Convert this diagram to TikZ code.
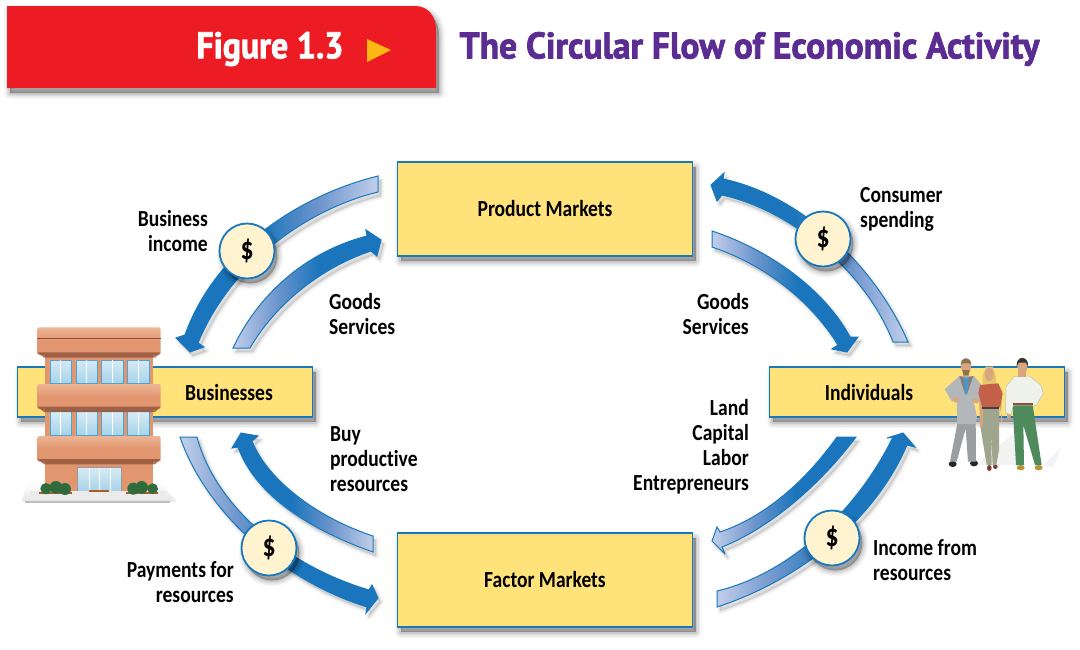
\documentclass[tikz,border=0pt]{standalone}
\usepackage{fontspec}
\setmainfont{Carlito}
\newfontfamily\heavy[FakeBold=2,FakeStretch=0.915]{PT Sans Bold}
\newfontfamily\heavyt[FakeBold=2,FakeStretch=0.96]{PT Sans Bold}
\newfontfamily\labfont[FakeStretch=0.85,Ligatures=NoCommon]{Carlito Bold}
\newfontfamily\dolfont[FakeStretch=0.8]{Carlito Bold}
\usetikzlibrary{calc}
\definecolor{boxy}{HTML}{FFE27A}
\definecolor{edge}{HTML}{1878BE}
\definecolor{dk}{HTML}{1A75BC}
\definecolor{md}{HTML}{6C94CC}
\definecolor{lt}{HTML}{BCCBE8}
\definecolor{cream}{HTML}{FFF4CF}
\definecolor{redband}{HTML}{ED1C24}
\definecolor{purp}{HTML}{5B2C91}
\definecolor{amber}{HTML}{FDB913}
\definecolor{brick}{HTML}{E2966F}
\definecolor{brickd}{HTML}{8A4F38}
\definecolor{brickl}{HTML}{EDB595}
\definecolor{glassa}{HTML}{D6EAF4}
\definecolor{glassb}{HTML}{A6D3EA}
\definecolor{frameb}{HTML}{4FA3CF}
\definecolor{bush}{HTML}{2F6B3D}
\definecolor{skin}{HTML}{D9A57E}
\definecolor{suit}{HTML}{B4B7B9}
\definecolor{suitd}{HTML}{9B9FA2}
\definecolor{tie}{HTML}{3E9AD6}
\definecolor{hairm}{HTML}{8C7350}
\definecolor{blond}{HTML}{E5C56E}
\definecolor{shirtr}{HTML}{C4604A}
\definecolor{khaki}{HTML}{A0A58E}
\definecolor{shirtw}{HTML}{EEF2EA}
\definecolor{shirtl}{HTML}{B9C2B4}
\definecolor{pantg}{HTML}{4E8A5C}
\definecolor{tan}{HTML}{B8943C}
\definecolor{shoer}{HTML}{7A3D35}
\pgfdeclarehorizontalshading{darklite}{100bp}{color(0bp)=(dk);color(25bp)=(dk);color(46bp)=(dk);color(60bp)=(md);color(74bp)=(lt);color(100bp)=(lt)}
\tikzset{x=1pt,y=-1pt,
 softshadow/.style={
   preaction={draw=black,fill=black,opacity=.03,line width=12pt,line join=round,transform canvas={xshift=3pt,yshift=-5pt}},
   preaction={draw=black,fill=black,opacity=.05,line width=9pt,line join=round,transform canvas={xshift=3pt,yshift=-5pt}},
   preaction={draw=black,fill=black,opacity=.06,line width=6pt,line join=round,transform canvas={xshift=3pt,yshift=-5pt}},
   preaction={draw=black,fill=black,opacity=.08,line width=3pt,line join=round,transform canvas={xshift=3pt,yshift=-5pt}},
   preaction={draw=none,fill=black,opacity=.1,transform canvas={xshift=3pt,yshift=-5pt}}},
 thinshadow/.style={
   preaction={draw=black,fill=black,opacity=.025,line width=7pt,line join=round,transform canvas={xshift=3pt,yshift=-4pt}},
   preaction={draw=black,fill=black,opacity=.035,line width=4pt,line join=round,transform canvas={xshift=3pt,yshift=-4pt}},
   preaction={draw=black,fill=black,opacity=.05,line width=2pt,line join=round,transform canvas={xshift=3pt,yshift=-4pt}}},
 market/.style={draw=edge,line width=1.6pt,fill=boxy,softshadow,minimum width=295pt,minimum height=94pt,font=\labtext},
 sector/.style={draw=edge,line width=1.6pt,fill=boxy,softshadow,minimum width=295pt,minimum height=50pt},
 money/.style={circle,draw=edge,line width=1.8pt,fill=cream,softshadow,minimum size=55pt,inner sep=0pt,font=\dolfont\fontsize{32}{32}\selectfont},
 lab/.style={font=\labtext,align=left,inner sep=0pt},
 labr/.style={lab,align=right},
 band/.style={draw=edge,line width=1pt,thinshadow,line join=miter,miter limit=4,shading=darklite},
 pane/.style={top color=glassa,bottom color=glassb,draw=frameb,line width=.8pt},
 slab/.style={top color=brickl,bottom color=brick,middle color=brick}}
\newcommand{\labtext}{\labfont\fontsize{23}{25}\selectfont}
\begin{document}
\begin{tikzpicture}
\useasboundingbox (0,0) rectangle (1080,649);
\fill[white] (0,0) rectangle (1080,649);
% banner
\fill[redband,softshadow] (7,6) -- (415,6) .. controls (428,6) and (436,16) .. (436,30) -- (436,88) -- (7,88) -- cycle;
\node[white,inner sep=0pt] (fig) at (270,49) {\heavy\fontsize{37}{37}\selectfont Figure 1.3};
\fill[amber] (367,39) -- (391,50) -- (367,62) -- cycle;
\node[purp,inner sep=0pt] (title) at (749.5,49) {\heavyt\fontsize{37}{37}\selectfont The Circular Flow of Economic Activity};
% boxes
\node[market] (pm) at (545,209) {Product Markets};
\node[market] (fm) at (545,580) {Factor Markets};
\node[sector] (bs) at (165,392) {};
\node[sector] (in) at (917,392) {};
\node[inner sep=0pt,font=\labtext] (bst) at (229,393) {Businesses};
\node[inner sep=0pt,font=\labtext] (int) at (869,393) {Individuals};
% arrows
\shadedraw[band,shading angle=0] (378,176) .. controls (300,195) and (215,250) .. (185,335) -- (176,338) -- (190,352) -- (204,347) -- (198,343) .. controls (230,265) and (305,210) .. (378,192) -- cycle;
\shadedraw[band,shading angle=180] (233,348) .. controls (258,295) and (305,252) .. (367,236) -- (366,230) -- (381,240) -- (377,256) -- (371,251) .. controls (320,268) and (275,305) .. (250,348) -- cycle;
\shadedraw[band,shading angle=0] (908,342) .. controls (875,265) and (800,195) .. (723,179) -- (724,173) -- (711,185) -- (717,201) -- (722,195) .. controls (790,210) and (865,270) .. (893,342) -- cycle;
\shadedraw[band,shading angle=180] (712,231) .. controls (770,250) and (825,290) .. (850,337) -- (858,337) -- (847,352) -- (832,349) -- (838,345) .. controls (810,300) and (765,265) .. (712,247) -- cycle;
\shadedraw[band,shading angle=180] (197,437) .. controls (215,505) and (285,565) .. (369,590) -- (372,585) -- (378,598) -- (366,613) -- (367,607) .. controls (280,580) and (205,510) .. (180,437) -- cycle;
\shadedraw[band,shading angle=0] (373,536) .. controls (310,515) and (265,475) .. (252,441) -- (258,436) -- (241,433) -- (232,448) -- (238,447) .. controls (255,495) and (310,530) .. (373,552) -- cycle;
\shadedraw[band,shading angle=180] (837,437) .. controls (810,475) and (770,515) .. (720,532) -- (717,527) -- (712,541) -- (725,554) -- (722,547) .. controls (770,528) and (820,485) .. (856,437) -- cycle;
\shadedraw[band,shading angle=180] (717,591) .. controls (785,575) and (855,515) .. (893,437) -- (887,438) -- (903,433) -- (915,447) -- (907,445) .. controls (875,520) and (800,580) .. (717,607) -- cycle;
% money
\node[money] (m1) at (247,251) {\$};
\node[money] (m2) at (823,239) {\$};
\node[money] (m3) at (269,548) {\$};
\node[money] (m4) at (832,538) {\$};
% labels
\node[labr,anchor=east] (l1) at (208,231) {Business\\income};
\node[lab,anchor=west] (l2) at (329,314) {Goods\\Services};
\node[labr,anchor=east] (l3) at (749,314) {Goods\\Services};
\node[lab,anchor=west] (l4) at (860,209) {Consumer\\spending};
\node[labr,anchor=east] (l5) at (749,447) {Land\\Capital\\Labor\\Entrepreneurs};
\node[lab,anchor=west] (l6) at (330,459) {Buy\\productive\\resources};
\node[labr,anchor=east] (l7) at (234,582) {Payments for\\resources};
\node[lab,anchor=west] (l8) at (873,560) {Income from\\resources};
% building
\begin{scope}[shift={(20,320)},scale=1/3]
\shade[top color=white,bottom color=black!10] (20,490) -- (420,490) -- (470,545) -- (5,545) -- cycle;
\fill[black!25] (15,542) rectangle (450,550);
\fill[brick] (75,100) rectangle (400,515);
\foreach \yy in {120,275}{
 \foreach \xx in {90,168,245,322}{
  \shade[pane] (\xx,\yy) rectangle ++(65,70);
  \draw[white,line width=.6pt] (\xx+32,\yy) -- (\xx+32,\yy+70);
 }}
\foreach \ya/\yb in {22/105,192/268,348/425}{
 \shade[slab,rounded corners=2pt] (52,\ya) rectangle (422,\yb);
 \fill[brickd,opacity=.75] (52,\yb-8) -- (422,\yb-8) -- (405,\yb+8) -- (72,\yb+8) -- cycle;
}
\draw[brickd,line width=1pt] (52,55) -- (422,55);
\shade[pane,draw=black!40] (173,443) rectangle (303,513);
\foreach \xx in {208,238,270}{\draw[white,line width=.6pt] (\xx,443) -- (\xx,513);}
\fill[black!8] (30,513) rectangle (440,528);
\fill[brickd!70!orange] (208,510) rectangle (268,515);
\fill[brickd!70!orange] (58,515) rectangle (155,523);
\fill[brickd!70!orange] (318,515) rectangle (414,523);
\foreach \cx/\cy/\rr in {78/506/17,108/502/19,135/507/18,340/506/18,365/502/19,398/506/16}{\fill[bush] (\cx,\cy) circle[radius=\rr];}
\end{scope}
% people
\begin{scope}[shift={(930,350)},scale=1/3]
\fill[black,opacity=.05] (140,345) -- (250,250) -- (285,345) -- cycle;
\fill[black,opacity=.05] (335,350) -- (395,290) -- (370,350) -- cycle;
% man 1
\fill[black!85] (68,342) ellipse[x radius=12,y radius=9];
\fill[black!85] (132,340) ellipse[x radius=12,y radius=9];
\fill[suitd] (85,205) -- (60,335) -- (80,335) -- (107,235) -- (114,335) -- (138,335) -- (137,205) -- cycle;
\fill[suit] (88,78) -- (132,78) -- (155,105) -- (150,158) -- (130,150) -- (142,205) -- (135,222) -- (82,222) -- (80,150) -- (66,155) -- (44,118) -- cycle;
\fill[skin] (66,148) -- (82,140) -- (88,152) -- (75,158) -- cycle;
\fill[skin] (128,145) -- (146,150) -- (142,160) -- (126,156) -- cycle;
\fill[black!50] (88,78) -- (104,82) -- (106,135) -- cycle;
\fill[black!50] (130,78) -- (114,82) -- (110,135) -- cycle;
\fill[tie] (103,82) -- (115,82) -- (111,132) -- (106,132) -- cycle;
\fill[skin] (97,62) -- (119,62) -- (116,82) -- (100,82) -- cycle;
\fill[skin] (108,50) ellipse[x radius=15,y radius=21];
\fill[hairm] (92,46) .. controls (90,18) and (126,18) .. (124,46) -- (119,40) -- (97,40) -- cycle;
\fill[hairm] (97,60) -- (119,60) -- (115,76) -- (101,76) -- cycle;
% woman
\fill[shoer] (178,354) ellipse[x radius=7,y radius=9];
\fill[shoer] (196,350) ellipse[x radius=7,y radius=7];
\fill[khaki] (155,175) -- (208,175) -- (207,300) -- (199,345) -- (188,345) -- (183,240) -- (185,345) -- (170,345) -- (152,235) -- cycle;
\fill[skin] (147,130) -- (160,170) -- (157,232) -- (150,232) -- cycle;
\fill[skin] (216,130) -- (208,170) -- (219,210) -- (212,218) -- cycle;
\fill[blond] (158,105) .. controls (150,35) and (205,35) .. (198,105) -- cycle;
\fill[skin] (178,72) ellipse[x radius=13,y radius=21];
\fill[blond] (166,62) .. controls (170,50) and (186,50) .. (190,62) -- (190,50) -- (166,50) -- cycle;
\fill[shirtr] (150,105) -- (205,100) -- (218,130) -- (210,172) -- (158,175) -- (145,130) -- cycle;
\fill[black!75] (157,171) rectangle (206,178);
% man 2
\fill[tan] (272,353) ellipse[x radius=12,y radius=8];
\fill[tan] (326,353) ellipse[x radius=12,y radius=8];
\fill[pantg] (248,165) -- (308,165) -- (335,345) -- (315,345) -- (280,225) -- (282,345) -- (258,345) -- cycle;
\fill[skin] (232,188) -- (243,195) -- (241,208) -- (231,205) -- cycle;
\filldraw[fill=shirtw,draw=shirtl,line width=.5pt] (252,80) -- (298,78) -- (332,105) -- (340,130) -- (318,168) -- (308,165) -- (250,165) -- (243,195) -- (226,188) -- (228,110) -- cycle;
\fill[brickd] (248,160) rectangle (308,166);
\fill[skin] (265,62) rectangle (289,82);
\fill[skin] (277,50) ellipse[x radius=15,y radius=22];
\fill[black!80] (260,50) .. controls (256,15) and (298,15) .. (294,50) -- (288,38) -- (266,38) -- cycle;
\end{scope}
\end{tikzpicture}
\end{document}
